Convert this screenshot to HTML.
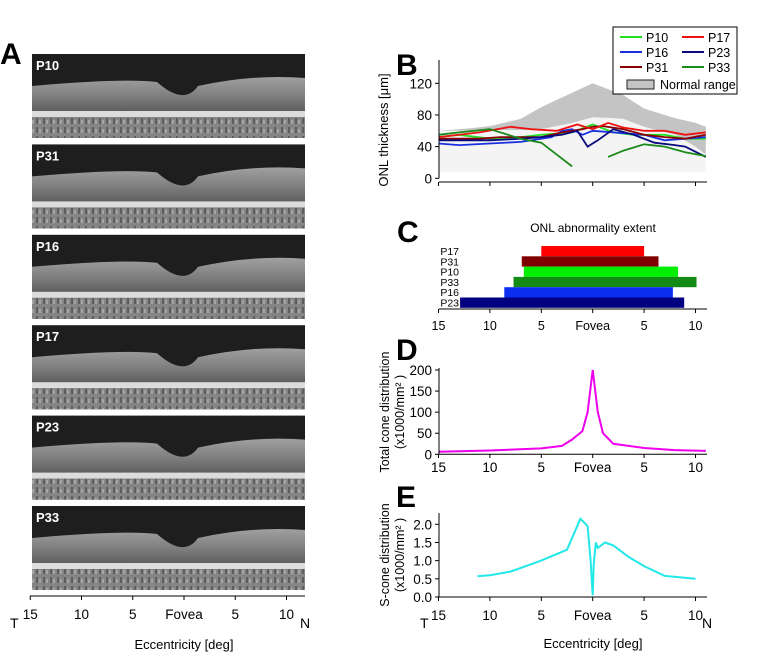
<!DOCTYPE html>
<html><head><meta charset="utf-8">
<style>
html,body{margin:0;padding:0;background:#fff;}
svg{display:block;font-family:"Liberation Sans",Arial,sans-serif;}
</style></head>
<body>
<svg id="fig" width="760" height="659" viewBox="0 0 760 659">
<defs>
<linearGradient id="retina" x1="0" y1="0" x2="0" y2="1">
<stop offset="0" stop-color="#a0a0a0"/><stop offset="0.3" stop-color="#808080"/><stop offset="0.6" stop-color="#5a5a5a"/><stop offset="1" stop-color="#6a6a6a"/>
</linearGradient>
<pattern id="chor" width="7" height="9" patternUnits="userSpaceOnUse">
<rect width="7" height="9" fill="#858585"/><rect x="1" y="1" width="2" height="6" fill="#5e5e5e"/><rect x="4" y="3" width="2" height="4" fill="#a5a5a5"/>
</pattern>
</defs>
<g id="panelA"></g>
<g id="panelB"></g>
<g id="panelC"></g>
<g id="panelD"></g>
<g id="panelE"></g>
</svg>
<script>
// ---- data ----
const patientsA = ["P10","P31","P16","P17","P23","P33"];
const tickEcc = [-15,-10,-5,0,5,10];
const tickLabels = ["15","10","5","Fovea","5","10"];

const bTicks = [0,40,80,120];
const normEcc = [-15,-12,-10,-7,-5,-2,0,2,3,5,8,10,11];
const normUpper = [60,63,66,75,90,108,120,110,105,88,76,70,65];
const normLower = [60,60,61,61,62,70,77,76,75,65,55,40,30];

const seriesColors = {P10:"#22e022",P16:"#1a2fe0",P31:"#8b0000",P17:"#ee1111",P23:"#0a0a80",P33:"#1a8a1a"};
const eccP10 = [-15,-13,-10,-7,-5,-2,0,2,4,7,9,11];
const valP10 = [52,55,50,52,55,58,68,58,55,55,50,50];
const eccP16 = [-15,-13,-10,-7,-4,-3,-2,-1,0,2,5,7,9,11];
const valP16 = [44,42,44,46,52,60,62,55,60,58,55,48,50,52];
const eccP31 = [-15,-13,-11,-9,-7,-5,-3,-1,0,1,3,5,7,9,11];
const valP31 = [50,50,50,52,52,52,58,62,65,66,62,55,52,50,55];
const eccP17 = [-15,-11,-8,-6,-3.5,-1.5,0,1.5,3,5,7,9,11];
const valP17 = [52,58,65,62,60,68,62,70,64,60,60,55,58];
const eccP23 = [-15,-13,-10,-7,-5,-3,-1.5,-0.5,0.5,2,4,6,8,9,11];
const valP23 = [48,48,48,50,52,55,60,40,48,62,55,45,42,40,27];
const eccP33a = [-15,-13,-10,-7,-5,-3.5,-2];
const valP33a = [55,58,62,50,45,30,15];
const eccP33b = [1.5,3,5,7,9,11];
const valP33b = [27,35,43,40,33,28];

const cNames = ["P17","P31","P10","P33","P16","P23"];
const cStart = [-5,-6.9,-6.7,-7.7,-8.6,-12.9];
const cEnd = [5,6.4,8.3,10.1,7.8,8.9];
const cColors = ["#ff0000","#800000","#00ee00","#138a13","#0a2df0","#000080"];

const dTicks = [0,50,100,150,200];
const dEcc = [-15,-10,-5,-3,-2,-1,-0.5,0,0.5,1,2,5,8,11];
const dVal = [6,9,14,20,35,55,100,200,100,50,25,15,10,8];

const eTicks = [0,0.5,1.0,1.5,2.0];
const eEcc = [-11.2,-10,-8,-5,-2.5,-1.2,-0.5,-0.2,0,0.1,0.3,0.5,1.2,2,3.5,5,7,10];
const eVal = [0.57,0.6,0.7,1.0,1.3,2.15,1.95,1.0,0.05,0.9,1.5,1.35,1.5,1.42,1.1,0.85,0.58,0.5];

// ---- helpers ----
const NS="http://www.w3.org/2000/svg";
function mk(parent,tag,attrs,text){const e=document.createElementNS(NS,tag);for(const k in attrs)e.setAttribute(k,attrs[k]);if(text!==undefined)e.textContent=text;parent.appendChild(e);return e;}
const xR = e => 592.7 + e*10.28;
function pathFrom(xs,ys,fx,fy){return xs.map((v,i)=>(i?"L":"M")+fx(v).toFixed(1)+","+fy(ys[i]).toFixed(1)).join("");}

// ---- Panel A ----
const A=document.getElementById("panelA");
let t=mk(A,"text",{x:0,y:64,"font-size":30,"font-weight":"bold"},"A");


const xA = e => 184 + e*10.25;
patientsA.forEach((p,i)=>{
  const top=54+i*90.4, h=84, x0=32, w=273;
  const g=mk(A,"g",{});
  
  
  mk(g,"rect",{x:x0,y:top,width:w,height:h,fill:"#1e1e1e"});
  const surf=top+28, dip=top+44;
  mk(g,"path",{d:`M${x0},${surf+4} Q${x0+90},${surf-4} ${x0+125},${surf} Q${xA(0)},${dip+8} ${xA(0)+14},${surf+4} Q${x0+220},${surf-8} ${x0+w},${surf-4} L${x0+w},${top+h} L${x0},${top+h}Z`,fill:"url(#retina)"});
  mk(g,"rect",{x:x0,y:top+63,width:w,height:21,fill:"url(#chor)"});
  mk(g,"rect",{x:x0,y:top+57,width:w,height:6,fill:"#dcdcdc"});
  let lt=mk(g,"text",{x:x0+4,y:top+16,"font-size":13,"font-weight":"bold",fill:"#fff"},p);
  
  
});
mk(A,"line",{x1:30,y1:596,x2:305,y2:596,stroke:"#000","stroke-width":1});
tickEcc.forEach((e,i)=>{
  mk(A,"line",{x1:xA(e),y1:596,x2:xA(e),y2:600,stroke:"#000"});
  let tl=mk(A,"text",{x:xA(e),y:619,"font-size":13.5,"text-anchor":"middle"},tickLabels[i]);
  
  
});
t=mk(A,"text",{x:10,y:628,"font-size":14},"T");
t=mk(A,"text",{x:300,y:628,"font-size":14},"N");
t=mk(A,"text",{x:184,y:649,"font-size":13,"text-anchor":"middle"},"Eccentricity [deg]");

// ---- Panel B ----
const B=document.getElementById("panelB");
const yB = v => 178.3 - v*(95/120);
t=mk(B,"text",{x:396,y:75,"font-size":30,"font-weight":"bold"},"B");
let light=mk(B,"path",{d:pathFrom(normEcc,normLower,xR,yB)+"L"+xR(11)+","+yB(8)+"L"+xR(-15)+","+yB(8)+"Z",fill:"#f4f4f4"});

const revE=[...normEcc].reverse(), revL=[...normLower].reverse();
let band=mk(B,"path",{d:pathFrom(normEcc,normUpper,xR,yB)+pathFrom(revE,revL,xR,yB).replace("M","L")+"Z",fill:"#c4c4c4"});

const bSeries={P10:[eccP10,valP10],P16:[eccP16,valP16],P31:[eccP31,valP31],P17:[eccP17,valP17],P23:[eccP23,valP23]};
for(const k in bSeries){
  let l=mk(B,"path",{d:pathFrom(bSeries[k][0],bSeries[k][1],xR,yB),fill:"none",stroke:seriesColors[k],"stroke-width":1.8});
  
}
let l33=mk(B,"path",{d:pathFrom(eccP33a,valP33a,xR,yB)+pathFrom(eccP33b,valP33b,xR,yB),fill:"none",stroke:seriesColors.P33,"stroke-width":1.8});

mk(B,"line",{x1:439,y1:60,x2:439,y2:178.3,stroke:"#000"});
mk(B,"line",{x1:439,y1:182,x2:707,y2:182,stroke:"#000"});
bTicks.forEach(v=>{
  mk(B,"line",{x1:435,y1:yB(v),x2:439,y2:yB(v),stroke:"#000"});
  let tl=mk(B,"text",{x:432,y:yB(v)+5,"font-size":13.5,"text-anchor":"end"},v);
  
});
tickEcc.forEach(e=>mk(B,"line",{x1:xR(e),y1:182,x2:xR(e),y2:186,stroke:"#000"}));
t=mk(B,"text",{x:0,y:0,"font-size":13,"text-anchor":"middle",transform:"translate(388,130) rotate(-90)"},"ONL thickness [μm]");

const lg=mk(B,"g",{});

mk(lg,"rect",{x:613,y:27,width:124,height:67,fill:"#fff",stroke:"#000","stroke-width":1});
const legOrder=[["P10","P17"],["P16","P23"],["P31","P33"]];
legOrder.forEach((row,r)=>row.forEach((n,c)=>{
  const x=620+c*62,y=37+r*15;
  const ge=mk(lg,"g",{});
  
  mk(ge,"line",{x1:x,y1:y,x2:x+22,y2:y,stroke:seriesColors[n],"stroke-width":2});
  mk(ge,"text",{x:x+26,y:y+5,"font-size":12.5},n);
}));
const gn=mk(lg,"g",{});

mk(gn,"rect",{x:627,y:80,width:27,height:9,fill:"#c4c4c4",stroke:"#222"});
mk(gn,"text",{x:660,y:89,"font-size":12.5},"Normal range");

// ---- Panel C ----
const C=document.getElementById("panelC");
t=mk(C,"text",{x:397,y:242,"font-size":30,"font-weight":"bold"},"C");
t=mk(C,"text",{x:593,y:232,"font-size":12,"text-anchor":"middle"},"ONL abnormality extent");
cNames.forEach((n,i)=>{
  const y=246+i*10.3;
  let r=mk(C,"rect",{x:xR(cStart[i]),y:y,width:xR(cEnd[i])-xR(cStart[i]),height:10.3,fill:cColors[i]});
  
  let tl=mk(C,"text",{x:459,y:y+9,"font-size":10.5,"text-anchor":"end"},n);
  
});
mk(C,"line",{x1:439,y1:309,x2:707,y2:309,stroke:"#000"});
tickEcc.forEach((e,i)=>{
  mk(C,"line",{x1:xR(e),y1:309,x2:xR(e),y2:313,stroke:"#000"});
  let tl=mk(C,"text",{x:xR(e),y:330,"font-size":12.5,"text-anchor":"middle"},tickLabels[i]);
  
});

// ---- Panel D ----
const D=document.getElementById("panelD");
const yD = v => 454.3 - v*(84.3/200);
t=mk(D,"text",{x:396,y:360,"font-size":30,"font-weight":"bold"},"D");
let dl=mk(D,"path",{d:pathFrom(dEcc,dVal,xR,yD),fill:"none",stroke:"#ee00ee","stroke-width":2});

mk(D,"line",{x1:439,y1:368,x2:439,y2:454.3,stroke:"#000"});
mk(D,"line",{x1:439,y1:454.3,x2:707,y2:454.3,stroke:"#000"});
dTicks.forEach(v=>{
  mk(D,"line",{x1:435,y1:yD(v),x2:439,y2:yD(v),stroke:"#000"});
  let tl=mk(D,"text",{x:432,y:yD(v)+5,"font-size":13.5,"text-anchor":"end"},v);
  
});
tickEcc.forEach((e,i)=>{
  mk(D,"line",{x1:xR(e),y1:454.3,x2:xR(e),y2:458,stroke:"#000"});
  let tl=mk(D,"text",{x:xR(e),y:472,"font-size":13.5,"text-anchor":"middle"},tickLabels[i]);
  
});
t=mk(D,"text",{x:0,y:0,"font-size":12.5,"text-anchor":"middle",transform:"translate(389,412) rotate(-90)"},"Total cone distribution");

t=mk(D,"text",{x:0,y:0,"font-size":12.5,"text-anchor":"middle",transform:"translate(404,412) rotate(-90)"},"(x1000/mm² )");


// ---- Panel E ----
const E=document.getElementById("panelE");
const yE = v => 597 - v*(72.7/2);
t=mk(E,"text",{x:396,y:507,"font-size":30,"font-weight":"bold"},"E");
let el=mk(E,"path",{d:pathFrom(eEcc,eVal,xR,yE),fill:"none",stroke:"#22e8e8","stroke-width":2});

mk(E,"line",{x1:439,y1:513,x2:439,y2:597,stroke:"#000"});
mk(E,"line",{x1:439,y1:597,x2:707,y2:597,stroke:"#000"});
eTicks.forEach(v=>{
  mk(E,"line",{x1:435,y1:yE(v),x2:439,y2:yE(v),stroke:"#000"});
  let tl=mk(E,"text",{x:432,y:yE(v)+5,"font-size":13.5,"text-anchor":"end"},v.toFixed(1));
  
});
tickEcc.forEach((e,i)=>{
  mk(E,"line",{x1:xR(e),y1:597,x2:xR(e),y2:601,stroke:"#000"});
  let tl=mk(E,"text",{x:xR(e),y:620,"font-size":13.5,"text-anchor":"middle"},tickLabels[i]);
  
});
t=mk(E,"text",{x:420,y:628,"font-size":14},"T");
t=mk(E,"text",{x:702,y:628,"font-size":14},"N");
t=mk(E,"text",{x:593,y:648,"font-size":13,"text-anchor":"middle"},"Eccentricity [deg]");
t=mk(E,"text",{x:0,y:0,"font-size":12.5,"text-anchor":"middle",transform:"translate(389,555) rotate(-90)"},"S-cone distribution");

t=mk(E,"text",{x:0,y:0,"font-size":12.5,"text-anchor":"middle",transform:"translate(404,555) rotate(-90)"},"(x1000/mm² )");

</script>
</body></html>
